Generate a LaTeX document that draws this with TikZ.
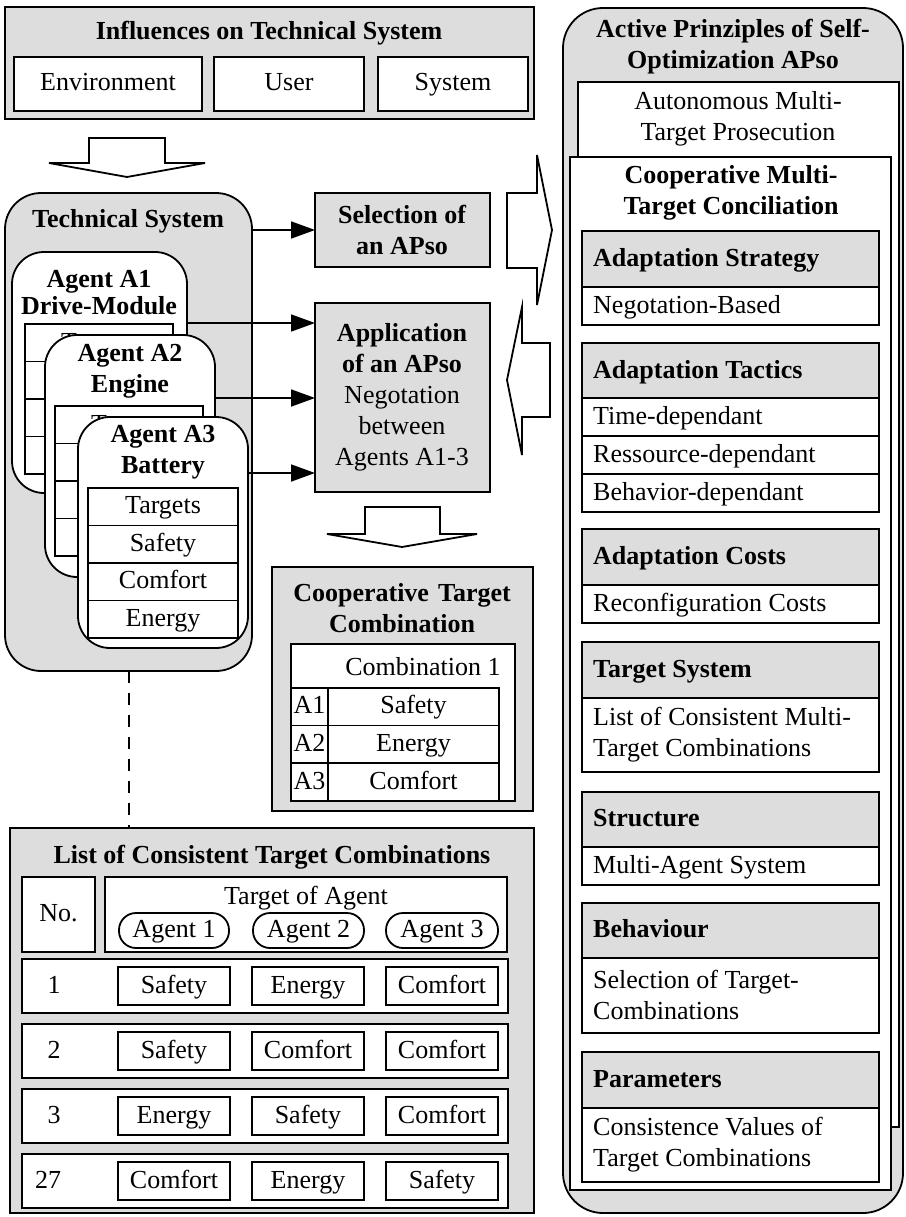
\documentclass[tikz,border=0pt]{standalone}
\usepackage{fontspec}
\setmainfont{Liberation Serif}
\usetikzlibrary{arrows.meta,calc}
\definecolor{gfill}{HTML}{DDDDDD}
\newcommand\mybox[6]{\node[#6, minimum width={(#4-#2)*1pt}, minimum height={(#5-#3)*1pt}] (#1) at ({(#2+#4)/2},{(#3+#5)/2}) {};}
\tikzset{
 bx/.style={draw, line width=1.8pt, inner sep=0pt, outer sep=0pt, fill=white},
 gbx/.style={bx, fill=gfill},
 tx/.style={inner sep=0pt, align=center, font=\fontsize{26}{31}\selectfont},
 bt/.style={inner sep=0pt, align=center, font=\fontsize{26}{31}\selectfont\bfseries},
 st/.style={tx, text height=19.5pt, text depth=5.5pt},
 sbt/.style={bt, text height=19.5pt, text depth=5.5pt},
 lt/.style={tx, anchor=west, align=left},
 slt/.style={st, anchor=west},
 lbt/.style={sbt, anchor=west},
 arr/.style={line width=1.8pt, -{Triangle[length=24pt,width=17pt]}},
 barrow/.style={draw, line width=1.8pt, fill=white, line join=miter},
 dline/.style={line width=1.8pt, dash pattern=on 12pt off 10pt},
}
\begin{document}
\begin{tikzpicture}[x=1pt,y=-1pt]
\useasboundingbox (0,0) rectangle (905,1217);
% ---------- Influences
\mybox{inf}{5}{7}{534}{119}{gbx}
\node[sbt] (infT) at (269,33) {Influences on Technical System};
\mybox{env}{14}{57}{202}{111}{bx}
\node[st] (envT) at (env) {Environment};
\mybox{usr}{214}{57}{364}{111}{bx}
\node[st] (usrT) at (usr) {User};
\mybox{sys}{378}{57}{528}{111}{bx}
\node[st] (sysT) at (sys) {System};
% block arrow down
\draw[barrow] (89,138) -- (165,138) -- (165,163) -- (205,163) -- (127,177) -- (49,163) -- (89,163) -- cycle;
% ---------- Technical system
\mybox{ts}{5}{193}{252}{671}{gbx, rounded corners=36pt}
\node[sbt] (tsT) at (128,220) {Technical System};
% Agent A1
\mybox{a1}{12}{252}{187}{493}{bx, rounded corners=32pt}
\node[bt] (a1T) at (99,293) {Agent A1\\[-4pt]Drive-Module};
\mybox{a1t}{25}{324}{173}{474}{bx}
\draw[line width=1.8pt] (a1t.west |- 0,361.5) -- (a1t.east |- 0,361.5) (a1t.west |- 0,399) -- (a1t.east |- 0,399) (a1t.west |- 0,436.5) -- (a1t.east |- 0,436.5);
\node[st] (a1r1) at (99,343) {Targets};
% Agent A2
\mybox{a2}{45}{335}{215}{577}{bx, rounded corners=32pt}
\node[bt] (a2T) at (130,371) {Agent A2\\Engine};
\mybox{a2t}{55}{406}{203}{556}{bx}
\draw[line width=1.8pt] (a2t.west |- 0,443.5) -- (a2t.east |- 0,443.5) (a2t.west |- 0,481) -- (a2t.east |- 0,481) (a2t.west |- 0,518.5) -- (a2t.east |- 0,518.5);
\node[st] (a2r1) at (129,425) {Targets};
% Agent A3
\mybox{a3}{78}{417}{248}{648}{bx, rounded corners=32pt}
\node[bt] (a3T) at (163,452) {Agent A3\\Battery};
\mybox{a3r1}{88}{488}{238}{525.5}{bx}
\mybox{a3r2}{88}{525.5}{238}{563}{bx}
\mybox{a3r3}{88}{563}{238}{600.5}{bx}
\mybox{a3r4}{88}{600.5}{238}{638}{bx}
\node[st] (a3r1T) at (a3r1) {Targets};
\node[st] (a3r2T) at (a3r2) {Safety};
\node[st] (a3r3T) at (a3r3) {Comfort};
\node[st] (a3r4T) at (a3r4) {Energy};
% ---------- Selection / Application
\mybox{sel}{315}{193}{490}{267}{gbx}
\node[bt] (selT) at (402,230) {Selection of\\an APso};
\mybox{app}{315}{303}{490}{492}{gbx}
\node[tx] (appT) at (402,397) {\textbf{Application}\\\textbf{of an APso}\\Negotation\\between\\Agents A1-3};
\draw[arr] (ts.east |- sel.west) -- (sel.west);
\draw[arr] (a1.east |- 0,323) -- (app.west |- 0,323);
\draw[arr] (a2.east |- 0,398) -- (app.west |- 0,398);
\draw[arr] (a3.east |- 0,473) -- (app.west |- 0,473);
% block arrows
\draw[barrow] (507,193) -- (537,193) -- (537,155) -- (552,230) -- (537,305) -- (537,268) -- (507,268) -- cycle;
\draw[barrow] (550,343) -- (522,343) -- (522,307) -- (507,380) -- (522,455) -- (522,417) -- (550,417) -- cycle;
\draw[barrow] (365,507) -- (440,507) -- (440,534) -- (477,534) -- (402,547) -- (327,534) -- (365,534) -- cycle;
% ---------- Cooperative Target Combination
\mybox{ctc}{272}{567}{533}{811}{gbx}
\node[bt] (ctcT) at (402,608) {Cooperative\hspace{9pt}Target\\Combination};
\mybox{ctct}{291}{644}{515}{801}{bx}
\node[st] (ctcH) at (423,668) {Combination 1};
\mybox{cA1}{291}{688}{328}{725.5}{bx}
\mybox{cS1}{328}{688}{499}{725.5}{bx}
\mybox{cA2}{291}{725.5}{328}{763}{bx}
\mybox{cS2}{328}{725.5}{499}{763}{bx}
\mybox{cA3}{291}{763}{328}{801}{bx}
\mybox{cS3}{328}{763}{499}{801}{bx}
\node[st] (cA1T) at (cA1) {A1};
\node[st] (cA2T) at (cA2) {A2};
\node[st] (cA3T) at (cA3) {A3};
\node[st] (cS1T) at (cS1) {Safety};
\node[st] (cS2T) at (cS2) {Energy};
\node[st] (cS3T) at (cS3) {Comfort};
% ---------- List of consistent target combinations
\mybox{lst}{10}{828}{534}{1213}{gbx}
\draw[dline] (ts.south -| 129,0) -- (lst.north -| 129,0);
\node[sbt] (lstT) at (272,856) {List of Consistent Target Combinations};
\mybox{no}{22}{877}{95}{952}{bx}
\node[st] (noT) at (no) {No.};
\mybox{toa}{105}{877}{507}{952}{bx}
\node[st] (toaT) at (306,897) {Target of Agent};
\mybox{ag1}{119}{913}{229}{948}{bx, rounded corners=17pt}
\mybox{ag2}{253}{913}{364}{948}{bx, rounded corners=17pt}
\mybox{ag3}{386}{913}{498}{948}{bx, rounded corners=17pt}
\node[st] (ag1T) at (ag1) {Agent 1};
\node[st] (ag2T) at (ag2) {Agent 2};
\node[st] (ag3T) at (ag3) {Agent 3};
% rows
\mybox{r1}{22}{959}{508}{1013}{bx}
\mybox{r2}{22}{1024}{508}{1078}{bx}
\mybox{r3}{22}{1089}{508}{1143}{bx}
\mybox{r4}{22}{1154}{508}{1208}{bx}
\node[st] (n1) at (54,986) {1};
\node[st] (n2) at (54,1051) {2};
\node[st] (n3) at (54,1116) {3};
\node[st] (n4) at (48,1181) {27};
\mybox{c11}{118}{967}{230}{1005}{bx} \node[st] (c11T) at (c11) {Safety};
\mybox{c12}{252}{967}{364}{1005}{bx} \node[st] (c12T) at (c12) {Energy};
\mybox{c13}{386}{967}{498}{1005}{bx} \node[st] (c13T) at (c13) {Comfort};
\mybox{c21}{118}{1032}{230}{1070}{bx} \node[st] (c21T) at (c21) {Safety};
\mybox{c22}{252}{1032}{364}{1070}{bx} \node[st] (c22T) at (c22) {Comfort};
\mybox{c23}{386}{1032}{498}{1070}{bx} \node[st] (c23T) at (c23) {Comfort};
\mybox{c31}{118}{1097}{230}{1135}{bx} \node[st] (c31T) at (c31) {Energy};
\mybox{c32}{252}{1097}{364}{1135}{bx} \node[st] (c32T) at (c32) {Safety};
\mybox{c33}{386}{1097}{498}{1135}{bx} \node[st] (c33T) at (c33) {Comfort};
\mybox{c41}{118}{1162}{230}{1200}{bx} \node[st] (c41T) at (c41) {Comfort};
\mybox{c42}{252}{1162}{364}{1200}{bx} \node[st] (c42T) at (c42) {Energy};
\mybox{c43}{386}{1162}{498}{1200}{bx} \node[st] (c43T) at (c43) {Safety};
% ---------- Right panel
\mybox{aps}{563}{8}{903}{1213}{gbx, rounded corners=40pt}
\node[bt] (apsT) at (733,47) {Active Prinziples of Self-\\Optimization APso};
\mybox{amt}{578}{82}{899}{1127}{bx}
\node[tx] (amtT) at (738,119) {Autonomous Multi-\\Target Prosecution};
\mybox{cmt}{570}{157}{891}{1190}{bx}
\node[bt] (cmtT) at (731,193) {Cooperative Multi-\\Target Conciliation};
% sections
\mybox{s1h}{582}{231}{879}{287}{gbx} \node[lbt] (s1hT) at (593,259) {Adaptation Strategy};
\mybox{s1a}{582}{287}{879}{325}{bx} \node[slt] (s1aT) at (593,306) {Negotation-Based};
\mybox{s2h}{582}{343}{879}{398}{gbx} \node[lbt] (s2hT) at (593,371) {Adaptation Tactics};
\mybox{s2a}{582}{398}{879}{436}{bx} \node[slt] (s2aT) at (593,417) {Time-dependant};
\mybox{s2b}{582}{436}{879}{474}{bx} \node[slt] (s2bT) at (593,455) {Ressource-dependant};
\mybox{s2c}{582}{474}{879}{512}{bx} \node[slt] (s2cT) at (593,493) {Behavior-dependant};
\mybox{s3h}{582}{529}{879}{585}{gbx} \node[lbt] (s3hT) at (593,557) {Adaptation Costs};
\mybox{s3a}{582}{585}{879}{623}{bx} \node[slt] (s3aT) at (593,604) {Reconfiguration Costs};
\mybox{s4h}{582}{642}{879}{698}{gbx} \node[lbt] (s4hT) at (593,670) {Target System};
\mybox{s4a}{582}{698}{879}{772}{bx} \node[lt] (s4aT) at (593,735) {List of Consistent Multi-\\Target Combinations};
\mybox{s5h}{582}{792}{879}{847}{gbx} \node[lbt] (s5hT) at (593,819) {Structure};
\mybox{s5a}{582}{847}{879}{885}{bx} \node[slt] (s5aT) at (593,866) {Multi-Agent System};
\mybox{s6h}{582}{903}{879}{958}{gbx} \node[lbt] (s6hT) at (593,930) {Behaviour};
\mybox{s6a}{582}{958}{879}{1033}{bx} \node[lt] (s6aT) at (593,995) {Selection of Target-\\Combinations};
\mybox{s7h}{582}{1052}{879}{1108}{gbx} \node[lbt] (s7hT) at (593,1080) {Parameters};
\mybox{s7a}{582}{1108}{879}{1182}{bx} \node[lt] (s7aT) at (593,1145) {Consistence Values of\\Target Combinations};
\end{tikzpicture}
\end{document}
